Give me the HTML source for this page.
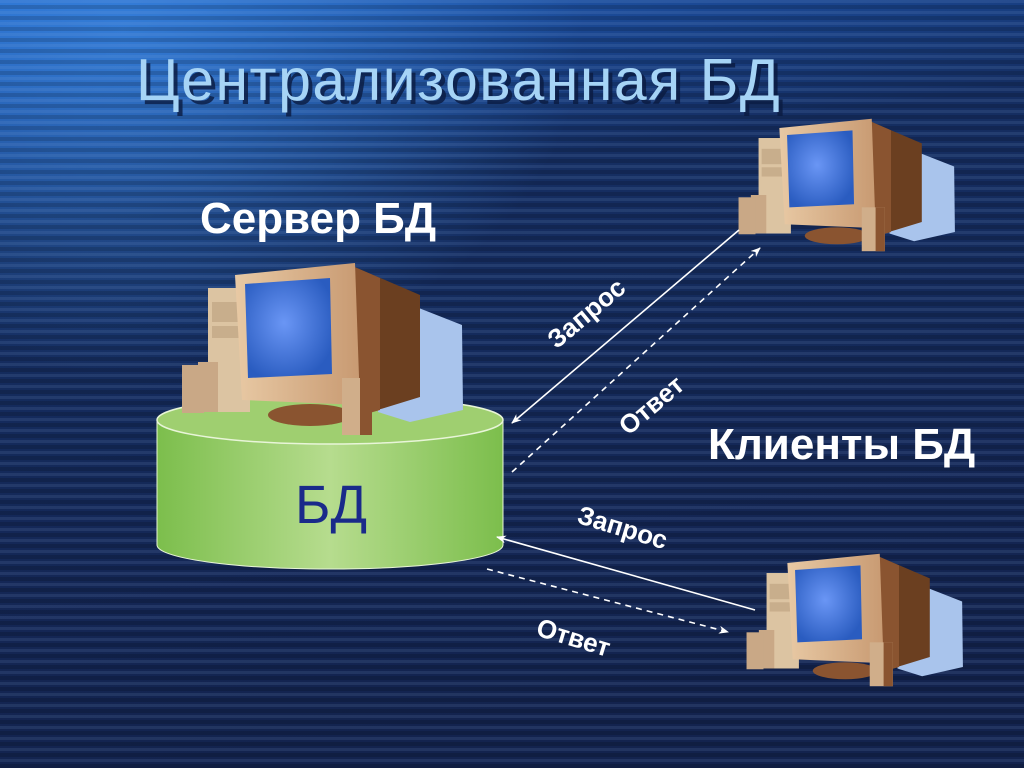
<!DOCTYPE html>
<html><head><meta charset="utf-8"><style>
html,body{margin:0;padding:0;width:1024px;height:768px;overflow:hidden;background:#0f2250}
svg{display:block}
</style></head><body>
<svg width="1024" height="768" viewBox="0 0 1024 768" xmlns="http://www.w3.org/2000/svg">
<defs>
<linearGradient id="bg" x1="0" y1="0" x2="0.2" y2="1">
<stop offset="0" stop-color="#2466c4"/>
<stop offset="0.15" stop-color="#1a4690"/>
<stop offset="0.3" stop-color="#152e62"/>
<stop offset="1" stop-color="#13234e"/>
</linearGradient>
<radialGradient id="glow" cx="0.12" cy="0.04" r="0.45">
<stop offset="0" stop-color="#3c8ae6" stop-opacity="0.7"/>
<stop offset="1" stop-color="#3c8ae6" stop-opacity="0"/>
</radialGradient>
<pattern id="stripes" width="10" height="11" patternUnits="userSpaceOnUse">
<rect width="10" height="3" y="0" fill="#8fb0e0" fill-opacity="0.12"/>
<rect width="10" height="4" y="5" fill="#000" fill-opacity="0.15"/>
</pattern>
<radialGradient id="scr" cx="0.45" cy="0.45" r="0.6">
<stop offset="0" stop-color="#6a96f5"/>
<stop offset="1" stop-color="#2a5cc0"/>
</radialGradient>
<linearGradient id="cyl" x1="0" y1="0" x2="1" y2="0">
<stop offset="0" stop-color="#7cbe4c"/>
<stop offset="0.5" stop-color="#b6dc8e"/>
<stop offset="1" stop-color="#7cbe4c"/>
</linearGradient>
<linearGradient id="bez" x1="0" y1="0" x2="1" y2="0">
<stop offset="0" stop-color="#e8c9a4"/>
<stop offset="1" stop-color="#c89a72"/>
</linearGradient>
<marker id="ah" markerWidth="10" markerHeight="8" refX="9" refY="4" orient="auto" markerUnits="userSpaceOnUse">
<path d="M0,0 L10,4 L0,8 L3,4 Z" fill="#fff"/>
</marker>
<g id="pc">
<polygon points="198,30 282,63 283,148 230,160 198,150" fill="#a9c4ec"/>
<polygon points="170,3 240,33 240,135 165,158" fill="#6b3f20"/>
<polygon points="170,3 200,16 200,148 165,158" fill="#8a5430"/>
<rect x="28" y="26" width="42" height="124" fill="#dcc4a2"/>
<rect x="32" y="40" width="34" height="20" fill="#c8ae8c"/>
<rect x="32" y="64" width="34" height="12" fill="#c8ae8c"/>
<rect x="18" y="100" width="20" height="50" fill="#c9a886"/>
<ellipse cx="130" cy="153" rx="42" ry="11" fill="#8a5430"/>
<polygon points="55,13 175,1 180,143 62,138" fill="url(#bez)"/>
<polygon points="65,22 150,16 152,112 68,116" fill="url(#scr)"/>
<rect x="2" y="103" width="22" height="48" fill="#c9a886"/>
<rect x="162" y="116" width="30" height="57" fill="#d0ae8a"/>
<rect x="180" y="116" width="12" height="57" fill="#8a5430"/>
</g>
</defs>
<rect width="1024" height="768" fill="url(#bg)"/>
<rect width="1024" height="768" fill="url(#glow)"/>
<rect width="1024" height="768" fill="url(#stripes)"/>

<text x="140" y="104" font-family="Liberation Sans, sans-serif" font-size="59" letter-spacing="1.5" fill="#0a1a40" fill-opacity="0.8">Централизованная БД</text>
<text x="136" y="100" font-family="Liberation Sans, sans-serif" font-size="59" letter-spacing="1.5" fill="#a6d4f6">Централизованная БД</text>

<text x="200" y="233" font-family="Liberation Sans, sans-serif" font-size="44" font-weight="bold" fill="#fff">Сервер БД</text>
<text x="708" y="459" font-family="Liberation Sans, sans-serif" font-size="44" font-weight="bold" fill="#fff">Клиенты БД</text>

<!-- cylinder -->
<path d="M157,420 L157,545 A173,24 0 0 0 503,545 L503,420 Z" fill="url(#cyl)" stroke="#e8f5d8" stroke-width="1"/>
<ellipse cx="330" cy="420" rx="173" ry="24" fill="#9fcf70" stroke="#e8f5d8" stroke-width="1.5"/>
<use href="#pc" transform="translate(180,262)"/>
<text x="295" y="523" font-family="Liberation Sans, sans-serif" font-size="54" fill="#1a2a8a">БД</text>

<use href="#pc" transform="translate(737,118) scale(0.77)"/>
<use href="#pc" transform="translate(745,553) scale(0.77)"/>

<!-- arrows -->
<line x1="739" y1="230" x2="512" y2="423" stroke="#fff" stroke-width="1.6" marker-end="url(#ah)"/>
<line x1="512" y1="472" x2="760" y2="248" stroke="#fff" stroke-width="1.6" stroke-dasharray="6,5" marker-end="url(#ah)"/>
<line x1="755" y1="610" x2="497" y2="537" stroke="#fff" stroke-width="1.6" marker-end="url(#ah)"/>
<line x1="487" y1="569" x2="728" y2="632" stroke="#fff" stroke-width="1.6" stroke-dasharray="6,5" marker-end="url(#ah)"/>

<g font-family="Liberation Sans, sans-serif" font-size="26" font-weight="bold" fill="#fff" text-anchor="middle">
<text transform="translate(592,320) rotate(-40)">Запрос</text>
<text transform="translate(657,412) rotate(-40)">Ответ</text>
<text transform="translate(620,536) rotate(17)">Запрос</text>
<text transform="translate(571,646) rotate(17)">Ответ</text>
</g>
</svg>
</body></html>
